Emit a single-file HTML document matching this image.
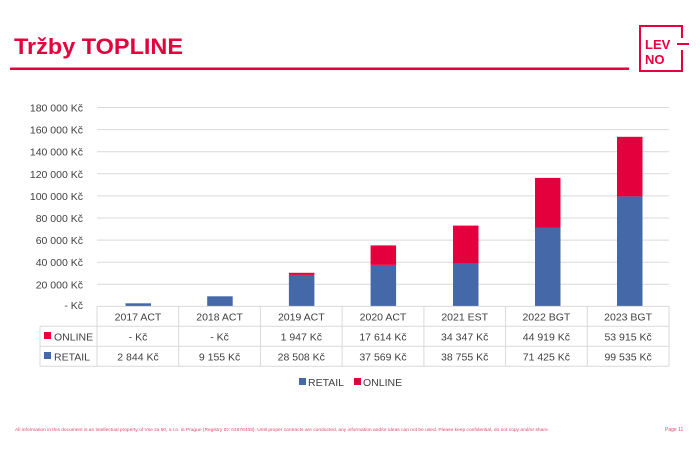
<!DOCTYPE html>
<html><head><meta charset="utf-8"><style>
body{margin:0;background:#fff;}
svg{display:block;font-family:"Liberation Sans",sans-serif;}
</style></head><body>
<svg width="700" height="450" viewBox="0 0 700 450" xmlns="http://www.w3.org/2000/svg">
<rect width="700" height="450" fill="#fff"/>
<text x="14" y="54" font-size="22" font-weight="bold" fill="#e4003c" textLength="169" lengthAdjust="spacingAndGlyphs">Tržby TOPLINE</text>
<rect x="10" y="67.5" width="619" height="2.5" fill="#e4003c"/>
<!-- logo -->
<path d="M682 38 V26 H640 V71 H682 V50" fill="none" stroke="#e4003c" stroke-width="2"/>
<line x1="677" y1="44" x2="689" y2="44" stroke="#e4003c" stroke-width="2"/>
<text x="645" y="49" font-size="13" font-weight="bold" fill="#e4003c">LEV</text>
<text x="645" y="64" font-size="13" font-weight="bold" fill="#e4003c">NO</text>
<!-- grid -->
<g stroke="#d9d9d9" stroke-width="1">
<line x1="97" y1="107.5" x2="669" y2="107.5"/>
<line x1="97" y1="129.6" x2="669" y2="129.6"/>
<line x1="97" y1="151.7" x2="669" y2="151.7"/>
<line x1="97" y1="173.8" x2="669" y2="173.8"/>
<line x1="97" y1="195.9" x2="669" y2="195.9"/>
<line x1="97" y1="218" x2="669" y2="218"/>
<line x1="97" y1="240.1" x2="669" y2="240.1"/>
<line x1="97" y1="262.2" x2="669" y2="262.2"/>
<line x1="97" y1="284.3" x2="669" y2="284.3"/>
</g>
<g font-size="10.5" fill="#404040" text-anchor="end">
<text x="83" y="111.5">180 000 Kč</text>
<text x="83" y="133.6">160 000 Kč</text>
<text x="83" y="155.7">140 000 Kč</text>
<text x="83" y="177.8">120 000 Kč</text>
<text x="83" y="199.9">100 000 Kč</text>
<text x="83" y="222">80 000 Kč</text>
<text x="83" y="244.1">60 000 Kč</text>
<text x="83" y="266.2">40 000 Kč</text>
<text x="83" y="288.3">20 000 Kč</text>
<text x="83" y="309">-    Kč</text>
</g>
<g>
<rect x="125.5" y="303.3" width="25.5" height="3.1" fill="#4468a8"/>
<rect x="207.2" y="296.3" width="25.5" height="10.1" fill="#4468a8"/>
<rect x="288.9" y="274.9" width="25.5" height="31.5" fill="#4468a8"/>
<rect x="288.9" y="272.8" width="25.5" height="2.1" fill="#e4003c"/>
<rect x="370.6" y="264.9" width="25.5" height="41.5" fill="#4468a8"/>
<rect x="370.6" y="245.4" width="25.5" height="19.5" fill="#e4003c"/>
<rect x="453" y="263.6" width="25.5" height="42.8" fill="#4468a8"/>
<rect x="453" y="225.6" width="25.5" height="38" fill="#e4003c"/>
<rect x="535" y="227.5" width="25.5" height="78.9" fill="#4468a8"/>
<rect x="535" y="177.9" width="25.5" height="49.6" fill="#e4003c"/>
<rect x="617" y="196.4" width="25.5" height="110" fill="#4468a8"/>
<rect x="617" y="136.8" width="25.5" height="59.6" fill="#e4003c"/>
</g>
<!-- table -->
<g stroke="#d9d9d9" stroke-width="1" fill="none">
<line x1="97" y1="306.4" x2="669" y2="306.4"/>
<line x1="40" y1="326.3" x2="669" y2="326.3"/>
<line x1="40" y1="346.3" x2="669" y2="346.3"/>
<line x1="40" y1="366.3" x2="669" y2="366.3"/>
<line x1="40" y1="326.3" x2="40" y2="366.3"/>
<line x1="97" y1="306.4" x2="97" y2="366.3"/>
<line x1="178.7" y1="306.4" x2="178.7" y2="366.3"/>
<line x1="260.4" y1="306.4" x2="260.4" y2="366.3"/>
<line x1="342.1" y1="306.4" x2="342.1" y2="366.3"/>
<line x1="423.9" y1="306.4" x2="423.9" y2="366.3"/>
<line x1="505.6" y1="306.4" x2="505.6" y2="366.3"/>
<line x1="587.3" y1="306.4" x2="587.3" y2="366.3"/>
<line x1="669" y1="306.4" x2="669" y2="366.3"/>
</g>
<g font-size="10.5" fill="#404040" text-anchor="middle">
<text x="138" y="320.5">2017 ACT</text>
<text x="219.6" y="320.5">2018 ACT</text>
<text x="301.3" y="320.5">2019 ACT</text>
<text x="383" y="320.5">2020 ACT</text>
<text x="464.7" y="320.5">2021 EST</text>
<text x="546.4" y="320.5">2022 BGT</text>
<text x="628.1" y="320.5">2023 BGT</text>
<text x="138" y="340.5">-    Kč</text>
<text x="219.6" y="340.5">-    Kč</text>
<text x="301.3" y="340.5">1 947 Kč</text>
<text x="383" y="340.5">17 614 Kč</text>
<text x="464.7" y="340.5">34 347 Kč</text>
<text x="546.4" y="340.5">44 919 Kč</text>
<text x="628.1" y="340.5">53 915 Kč</text>
<text x="138" y="360.5">2 844 Kč</text>
<text x="219.6" y="360.5">9 155 Kč</text>
<text x="301.3" y="360.5">28 508 Kč</text>
<text x="383" y="360.5">37 569 Kč</text>
<text x="464.7" y="360.5">38 755 Kč</text>
<text x="546.4" y="360.5">71 425 Kč</text>
<text x="628.1" y="360.5">99 535 Kč</text>
</g>
<rect x="44" y="332" width="7" height="7" fill="#e4003c"/>
<text x="54" y="340.5" font-size="10.5" fill="#404040">ONLINE</text>
<rect x="44" y="352" width="7" height="7" fill="#4468a8"/>
<text x="54" y="360.5" font-size="10.5" fill="#404040">RETAIL</text>
<!-- legend -->
<rect x="299" y="378" width="7" height="7" fill="#4468a8"/>
<text x="308" y="386" font-size="10.5" fill="#404040">RETAIL</text>
<rect x="354" y="378" width="7" height="7" fill="#e4003c"/>
<text x="363" y="386" font-size="10.5" fill="#404040">ONLINE</text>
<!-- footer -->
<text x="15" y="431" font-size="4.6" fill="#e4003c" opacity="0.75" textLength="534" lengthAdjust="spacingAndGlyphs">All information in this document is an intellectual property of Vse za 50, s.r.o. in Prague (Registry ID: 04676408). Until proper contracts are conducted, any information and/or ideas can not be used. Please keep confidential, do not copy and/or share.</text>
<text x="665" y="431" font-size="5" fill="#e4003c" opacity="0.75">Page 11</text>
</svg>
</body></html>
